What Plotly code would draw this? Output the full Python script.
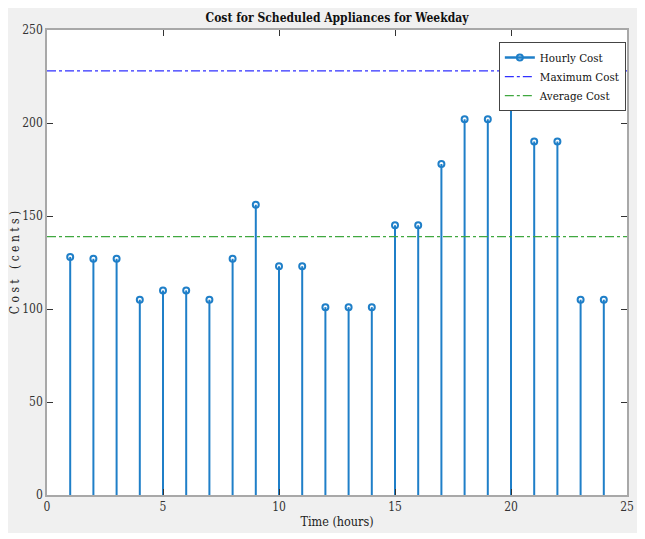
import plotly.graph_objects as go

hours = list(range(1, 25))
cost = [128, 127, 127, 105, 110, 110, 105, 127, 156, 123, 123, 101,
        101, 101, 145, 145, 178, 202, 202, 228, 190, 190, 105, 105]
x_ticks = [0, 5, 10, 15, 20, 25]
y_ticks = [0, 50, 100, 150, 200, 250]

max_cost = max(cost)
avg_cost = sum(cost) / len(cost)

stem_color = "#1f7fc8"
font_fam = "DejaVu Serif Condensed, Liberation Serif, serif"

sx, sy = [], []
for h, c in zip(hours, cost):
    sx += [h, h, None]
    sy += [0, c, None]

fig = go.Figure()
fig.add_trace(go.Scatter(x=sx, y=sy, mode="lines", line=dict(color=stem_color, width=2),
                         showlegend=False, hoverinfo="skip"))
fig.add_trace(go.Scatter(x=hours, y=cost, mode="markers",
                         marker=dict(symbol="circle-open", size=6, color=stem_color,
                                     line=dict(width=2, color=stem_color)),
                         showlegend=False))
fig.add_trace(go.Scatter(x=[None], y=[None], mode="lines+markers", name="Hourly Cost",
                         line=dict(color=stem_color, width=2.5),
                         marker=dict(symbol="circle-open", size=6, color=stem_color,
                                     line=dict(width=2, color=stem_color))))
fig.add_trace(go.Scatter(x=[0, 25], y=[max_cost, max_cost], mode="lines", name="Maximum Cost",
                         line=dict(color="#3030ff", width=1.2, dash="dashdot")))
fig.add_trace(go.Scatter(x=[0, 25], y=[avg_cost, avg_cost], mode="lines", name="Average Cost",
                         line=dict(color="#40a840", width=1.2, dash="dashdot")))

axis_common = dict(showgrid=False, zeroline=False, mirror="ticks", showline=True,
                   linecolor="#a8a8a8", linewidth=1.5, ticks="inside", ticklen=6,
                   tickcolor="#333333", automargin=False, ticklabeloverflow="allow",
                   tickfont=dict(family=font_fam, size=12, color="#333333"))

W, H = 629, 525
PL, PR, PT, PB = 39, 619, 22, 487
fig.update_layout(
    width=W, height=H,
    margin=dict(l=PL, r=W - PR, t=PT, b=H - PB, autoexpand=False),
    paper_bgcolor="#f0f0f0", plot_bgcolor="white",
    font=dict(family=font_fam, color="#222222"),
    title=dict(text="<b>Cost for Scheduled Appliances for Weekday</b>", x=(PL + PR) / 2 / W, xanchor="center",
               y=1 - 10/H, yanchor="middle", font=dict(family=font_fam, size=12, color="#111111")),
    xaxis=dict(range=[0, 25], tickvals=x_ticks, title=dict(text="Time (hours)", standoff=4,
               font=dict(family=font_fam, size=12.5, color="#222222")), **axis_common),
    yaxis=dict(range=[0, 250], tickvals=y_ticks, title=dict(text="C o s t   ( c e n t s )", standoff=6,
               font=dict(family=font_fam, size=12, color="#222222")), **axis_common),
    legend=dict(x=0.998, y=0.974, xanchor="right", yanchor="top", bgcolor="white",
                bordercolor="#444444", borderwidth=1, tracegroupgap=0,
                font=dict(family=font_fam, size=11.5, color="#111111"), itemwidth=30),
    showlegend=True,
)

fig.write_html("out.html")
